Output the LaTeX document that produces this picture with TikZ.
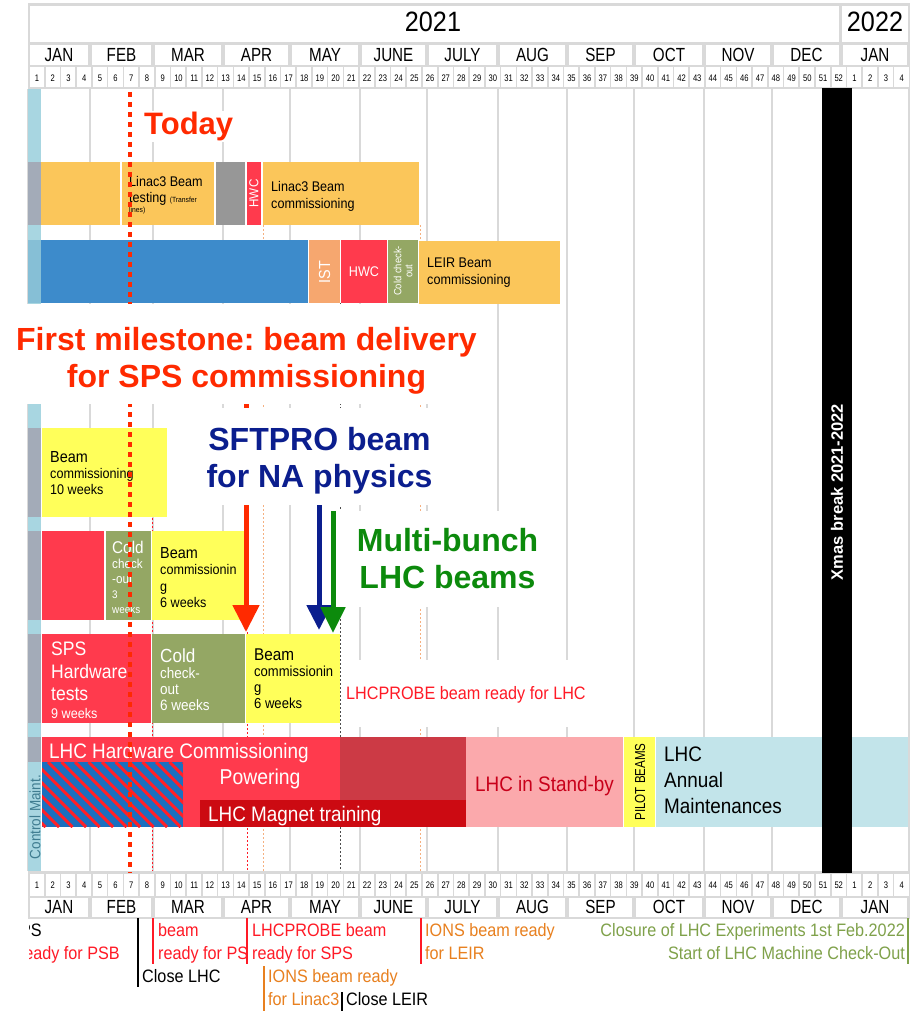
\documentclass[tikz,border=0pt]{standalone}
\usepackage{fontspec}
\setmainfont{Liberation Sans}
\newfontfamily\cond[FakeStretch=0.9]{Liberation Sans}
\newfontfamily\condx[FakeStretch=0.8]{Liberation Sans}
\usetikzlibrary{arrows.meta,positioning}
\newcommand{\pxs}[2]{\fontsize{#1}{#2}\selectfont}
\frenchspacing

\definecolor{linacorange}{HTML}{FBC65A}
\definecolor{leirblue}{HTML}{3D8BCB}
\definecolor{istsalmon}{HTML}{F6A76F}
\definecolor{hwcred}{HTML}{FF3A4D}
\definecolor{coldolive}{HTML}{94A764}
\definecolor{beamyellow}{HTML}{FFFF5A}
\definecolor{stopgray}{HTML}{979797}
\definecolor{lhcdark}{HTML}{CC3A45}
\definecolor{magnetred}{HTML}{CC0A12}
\definecolor{standpink}{HTML}{FBA9AC}
\definecolor{standred}{HTML}{C8001A}
\definecolor{maintblue}{HTML}{C2E4EA}
\definecolor{stripblue}{HTML}{A8D6E1}
\definecolor{stripdeep}{HTML}{86BFD6}
\definecolor{stripgray}{HTML}{A3ABB8}
\definecolor{ctrlteal}{HTML}{3F7C90}
\definecolor{gridgray}{HTML}{D9D9D9}
\definecolor{todayred}{HTML}{FF2A00}
\definecolor{sftblue}{HTML}{0B1E8E}
\definecolor{mbgreen}{HTML}{0C8A0C}
\definecolor{ionorange}{HTML}{E8801F}
\definecolor{ionlight}{HTML}{F5B080}
\definecolor{closegreen}{HTML}{7FA14A}
\definecolor{msred}{HTML}{FF1A26}
\definecolor{hatchblue}{HTML}{1B6FBF}
\definecolor{hatchred}{HTML}{FF2028}

\begin{document}
\begin{tikzpicture}[x=1pt,y=-1pt,
  txt/.style={inner sep=0, anchor=north west, align=left},
  vtxt/.style={inner sep=0, rotate=90, align=center},
  monthlbl/.style={inner sep=0, font=\condx\pxs{19}{20}},
  weeklbl/.style={inner sep=0, font=\condx\pxs{9.5}{10}},
  bigtext/.style={inner sep=0, align=center, anchor=north, font=\bfseries\pxs{32}{37}},
  grid line/.style={gridgray, line width=2.2pt},
  ms line/.style={line width=0.8pt, dash pattern=on 2pt off 2pt},
  mstick/.style={line width=2.5pt}]

\useasboundingbox (0,0) rectangle (914,1011);
\fill[white] (0,0) rectangle (914,1011);

% calendar header, top and bottom
\fill[gridgray] (28,3.5) rectangle (910,89);
\fill[gridgray] (28,871) rectangle (910,919);
\fill[white] (30,6.5) rectangle (838.5,42.5);
\fill[white] (841.5,6.5) rectangle (908,42.5);
\node (yr2021) [inner sep=0, font=\cond\pxs{28}{28}] at (433,22) {2021};
\node (yr2022) [inner sep=0, font=\cond\pxs{28}{28}] at (875,22) {2022};
\foreach \a/\b/\m [count=\i] in {28/90/JAN,90/153/FEB,153/223/MAR,223/290/APR,290/360/MAY,360/427/JUNE,427/498/JULY,498/567/AUG,567/634/SEP,634/704/OCT,704/772/NOV,772/841/DEC,841/909/JAN}{
  \fill[white] (\a+2,45) rectangle (\b-2,65);
  \fill[white] (\a+2,898) rectangle (\b-2,917);
  \node (mtop\i) [monthlbl] at ({(\a+\b)/2},55) {\m};
  \node (mbot\i) [monthlbl] at ({(\a+\b)/2},907) {\m};
}
\foreach \k in {1,...,56}{
  \pgfmathtruncatemacro{\wk}{\k>52 ? \k-52 : \k}
  \fill[white] ({29+(\k-1)*15.72+0.8},67.5) rectangle ({29+\k*15.72-0.8},87.5);
  \fill[white] ({29+(\k-1)*15.72+0.8},874) rectangle ({29+\k*15.72-0.8},896);
  \node (wtop\k) [weeklbl] at ({37+(\k-1)*15.72},78.5) {\wk};
  \node (wbot\k) [weeklbl] at ({37+(\k-1)*15.72},885) {\wk};
}

% month grid
\foreach \gx in {28,90,153,223,290,360,427,498,567,634,704,772,841,909}
  \draw[grid line] (\gx,89) -- (\gx,871);

% milestone markers
\draw[msred, ms line] (152,470) -- (152,871);
\draw[msred, ms line] (247,632) -- (247,871);
\draw[ionlight, ms line] (263,225) -- (263,871);
\draw[black!70, ms line] (340,303) -- (340,871);
\draw[ionlight, ms line] (420,225) -- (420,871);

% left strip
\fill[stripblue] (28,89) rectangle (41,871);
\fill[stripdeep] (28,240) rectangle (41,303);
\foreach \a/\b in {162/225,428/517,531/620,634/723,737/762}
  \fill[stripgray] (28,\a) rectangle (41,\b);
\node (ctrl) [rotate=90, inner sep=0, text=ctrlteal, font=\cond\pxs{15}{16}] at (35,817) {Control Maint.};

% Linac3
\fill[linacorange] (41,162) rectangle (120,225);
\fill[linacorange] (122,162) rectangle (214,225);
\fill[stopgray] (216,162) rectangle (245,225);
\fill[hwcred] (247,162) rectangle (261,225);
\fill[linacorange] (263,162) rectangle (419,225);
\node (linacA) [txt, font=\cond\pxs{14}{16}] at (129,176) {Linac3 Beam\\testing {\pxs{7.5}{8}(Transfer}\\[-6pt]{\pxs{7.5}{8}lines)}};
\node (hwcA) [vtxt, white, font=\cond\pxs{13}{14}] at (254,193.5) {HWC};
\node (linacB) [txt, font=\cond\pxs{14}{17}] at (271,181) {Linac3 Beam\\commissioning};

% LEIR
\fill[leirblue] (41,240) rectangle (308,303);
\fill[istsalmon] (309,240) rectangle (340,303);
\fill[hwcred] (341,240) rectangle (387,303);
\fill[coldolive] (388,240) rectangle (418,303);
\fill[linacorange] (419,241) rectangle (560,304);
\node (ist) [vtxt, white, font=\cond\pxs{16}{17}] at (324.5,272) {IST};
\node (hwcB) [inner sep=0, white, font=\cond\pxs{14}{15}] at (364,272) {HWC};
\node (coldA) [vtxt, white, font=\cond\pxs{10.5}{11}] at (403,271) {Cold check-\\out};
\node (leir) [txt, font=\cond\pxs{14}{16.5}] at (427,258) {LEIR Beam\\commissioning};

% PSB
\fill[beamyellow] (42,428) rectangle (167,517);
\node (psbtxt) [txt, font=\cond\pxs{14}{16}] at (50,451) {{\pxs{16}{16}Beam}\\commissioning\\10 weeks};

% PS
\fill[hwcred] (42,531) rectangle (104,620);
\fill[coldolive] (106,531) rectangle (151,620);
\fill[beamyellow] (152,531) rectangle (245,620);
\node (pscold) [txt, white, font=\cond\pxs{13}{15}] at (112,541) {{\pxs{17}{17}Cold}\\check\\-out\\{\pxs{11}{11}3}\\{\pxs{11}{11}weeks}};
\node (psbeam) [txt, font=\cond\pxs{14}{16.5}] at (160,547) {{\pxs{16}{16}Beam}\\commissionin\\g\\6 weeks};

% SPS
\fill[hwcred] (42,634) rectangle (151,723);
\fill[coldolive] (152,634) rectangle (245,723);
\fill[beamyellow] (246,634) rectangle (340,723);
\node (spshw) [txt, white, font=\cond\pxs{19.5}{22.5}] at (51,642) {SPS\\Hardware\\tests\\[-5pt]{\pxs{14}{14}9 weeks}};
\node (spscold) [txt, white, font=\cond\pxs{15}{16}] at (160,649) {{\pxs{19}{19}Cold}\\check-\\out\\6 weeks};
\node (spsbeam) [txt, font=\cond\pxs{14.5}{16}] at (254,649) {{\pxs{17}{17}Beam}\\commissionin\\g\\6 weeks};

% LHC
\fill[hwcred] (42,737) rectangle (340,827);
\fill[lhcdark] (340,737) rectangle (466,827);
\fill[standpink] (466,737) rectangle (623,827);
\fill[beamyellow] (624,737) rectangle (655,827);
\fill[maintblue] (656,737) rectangle (908,827);
\begin{scope}
  \clip (42,762) rectangle (183,827);
  \fill[hatchblue] (42,762) rectangle (183,827);
  \foreach \s in {-60,-46.5,...,190}
    \draw[hatchred, line width=3pt] (\s,762) -- (\s+65,827);
\end{scope}
\fill[magnetred] (200,800) rectangle (466,827);
\node (lhchwc) [txt, white, font=\cond\pxs{21}{21}] at (49,743) {LHC Hardware Commissioning};
\node (powering) [inner sep=0, anchor=north, white, font=\cond\pxs{21.5}{22}] at (260,769) {Powering};
\node (magnet) [txt, white, font=\cond\pxs{21}{21}] at (208,806) {LHC Magnet training};
\node (standby) [txt, text=standred, font=\cond\pxs{21}{21}] at (475,776) {LHC in Stand-by};
\node (pilot) [vtxt, font=\condx\pxs{14.5}{15}] at (640,782) {PILOT BEAMS};
\node (annual) [txt, font=\cond\pxs{21}{26}] at (664,747) {LHC\\Annual\\Maintenances};

% Xmas break
\fill[black] (822,88) rectangle (852,873);
\node (xmas) [rotate=90, inner sep=0, white, font=\bfseries\pxs{16.5}{17}] at (837,492) {Xmas break 2021-2022};

% today
\draw[todayred, line width=4.5pt, dash pattern=on 5pt off 5pt] (130,92) -- (130,873);
\node (today) [fill=white, inner sep=1pt, anchor=north west, text=todayred, font=\bfseries\pxs{31}{31}] at (143,111) {Today};

% beams for SPS
\coordinate (redtail) at (246,404);
\coordinate (redtip) at (246,632);
\coordinate (bluetail) at (319,505);
\coordinate (bluetip) at (319,630);
\coordinate (greentail) at (333,511);
\coordinate (greentip) at (333,633);
\draw[-{Triangle[width=26pt,length=27pt]}, line width=5pt, todayred] (redtail) -- (redtip);
\draw[-{Triangle[width=24pt,length=25pt]}, line width=5pt, sftblue] (bluetail) -- (bluetip);
\draw[-{Triangle[width=24pt,length=26pt]}, line width=5pt, mbgreen] (greentail) -- (greentip);

\fill[white] (0,304) rectangle (492,404);
\node (milestone) [bigtext, text=todayred] at (246.5,327) {First milestone: beam delivery\\for SPS commissioning};
\fill[white] (200,408) rectangle (440,505);
\node (sftpro) [bigtext, text=sftblue] at (319.5,427) {SFTPRO beam\\for NA physics};
\fill[white] (338,511) rectangle (545,607);
\node (multibunch) [bigtext, text=mbgreen] at (447.5,528) {Multi-bunch\\LHC beams};
\fill[white] (342,660) rectangle (592,727);
\node (lhcprobe) [txt, text=msred, font=\cond\pxs{18}{18}] at (346,686) {LHCPROBE beam ready for LHC};

% milestones below the calendar
\begin{scope}
  \clip (29,919) rectangle (914,1011);
  \node (msps) [txt, anchor=north east, font=\cond\pxs{18}{23}] at (42,923.5) {SPS};
  \node (mpsb) [txt, anchor=north east, text=msred, font=\cond\pxs{18}{23}] at (120,946.5) {ready for PSB};
\end{scope}
\node (mps) [txt, text=msred, font=\cond\pxs{18}{23}] at (158,923.5) {beam\\ready for PS};
\node (mlhcprobe) [txt, text=msred, font=\cond\pxs{18}{23}] at (252,923.5) {LHCPROBE beam\\ready for SPS};
\node (mcloselhc) [txt, font=\cond\pxs{18}{23}] at (142,969.5) {Close LHC};
\node (mions3) [txt, text=ionorange, font=\cond\pxs{18}{23}] at (268,969.5) {IONS beam ready\\for Linac3};
\node (mcloseleir) [txt, font=\cond\pxs{18}{23}] at (346,992.5) {Close LEIR};
\node (mionsleir) [txt, text=ionorange, font=\cond\pxs{18}{23}] at (425,923.5) {IONS beam ready\\for LEIR};
\node (mclosure) [txt, anchor=north east, align=right, text=closegreen, font=\cond\pxs{18}{23}] at (905,923.5) {Closure of LHC Experiments 1st Feb.2022\\Start of LHC Machine Check-Out};
\draw[black, mstick] (138,918) -- (138,987);
\draw[msred, mstick] (153,918) -- (153,964);
\draw[msred, mstick] (247,918) -- (247,964);
\draw[ionorange, mstick] (264,966) -- (264,1011);
\draw[black, mstick] (342,992) -- (342,1011);
\draw[msred, mstick] (421,918) -- (421,964);
\draw[closegreen, mstick] (908,918) -- (908,964);
\end{tikzpicture}
\end{document}
